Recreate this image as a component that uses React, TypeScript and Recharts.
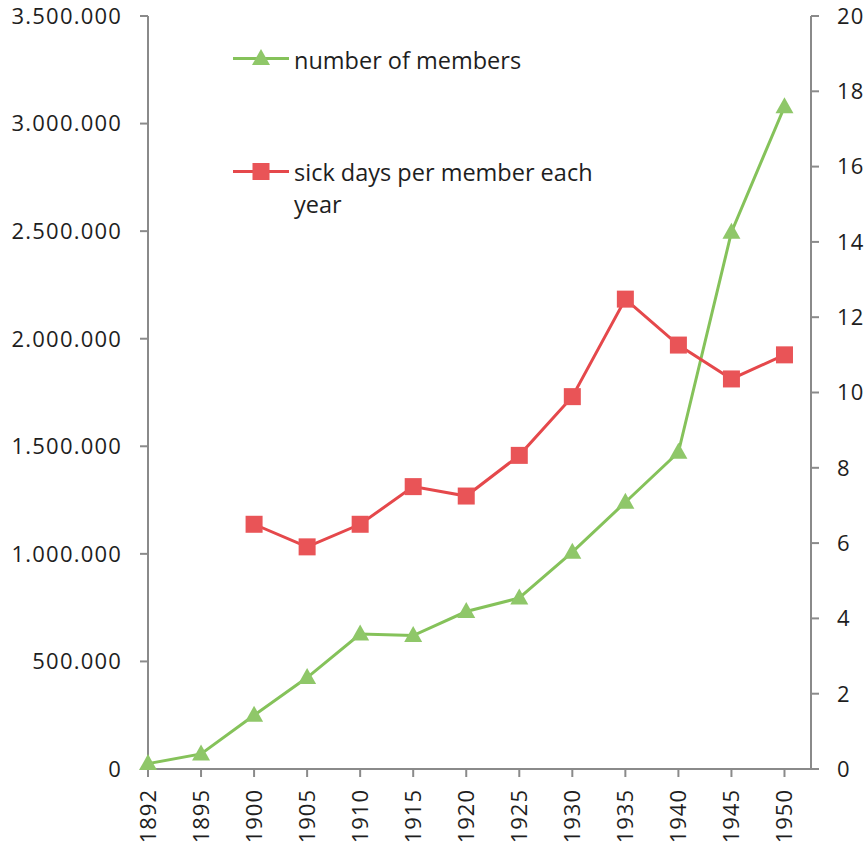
import { LineChart, Line, XAxis, YAxis } from 'recharts';

const years = ['1892', '1895', '1900', '1905', '1910', '1915', '1920', '1925', '1930', '1935', '1940', '1945', '1950'];
const members = [25000, 70000, 250000, 425000, 627000, 620000, 732000, 795000, 1008000, 1240000, 1472000, 2495000, 3078000];
const sickDays = [null, null, 6.5, 5.9, 6.5, 7.5, 7.25, 8.33, 9.89, 12.48, 11.26, 10.36, 11.0];
const leftTicks = [0, 500000, 1000000, 1500000, 2000000, 2500000, 3000000, 3500000];
const rightTicks = [0, 2, 4, 6, 8, 10, 12, 14, 16, 18, 20];

const GREEN = '#85c25a';
const GREEN_MARK = '#8fc769';
const RED = '#e5484b';
const RED_MARK = '#e95457';
const AXIS = '#8a8a8a';
const TEXT = '#1e1e1e';
const FONT = '"Open Sans", sans-serif';

const data = years.map((year, i) => ({
  idx: i,
  year,
  members: members[i],
  sick: sickDays[i],
}));

const fmtDots = (n: number) => String(n).replace(/\B(?=(\d{3})+(?!\d))/g, '.');

const Triangle = (props: any) => {
  const { cx, cy, index } = props;
  if (cx == null || cy == null) return <g key={`t${index}`} />;
  return (
    <polygon
      key={`t${index}`}
      points={`${cx},${cy - 9.5} ${cx - 9},${cy + 6.5} ${cx + 9},${cy + 6.5}`}
      fill={GREEN_MARK}
    />
  );
};

const Square = (props: any) => {
  const { cx, cy, index } = props;
  if (cx == null || cy == null) return <g key={`s${index}`} />;
  return <rect key={`s${index}`} x={cx - 8.5} y={cy - 8.5} width={17} height={17} fill={RED_MARK} />;
};

// year labels, turned to read bottom-up
const XTick = (props: any) => {
  const { x, y, payload } = props;
  return (
    <text
      x={x}
      y={y}
      transform={`rotate(-90, ${x}, ${y})`}
      textAnchor="end"
      dy="0.36em"
      fill={TEXT}
      fontSize={22}
      letterSpacing={1}
      fontFamily={FONT}
    >
      {years[payload.value]}
    </text>
  );
};

const tickStyle = { fill: TEXT, fontSize: 22, fontFamily: FONT, letterSpacing: 1.2 };

export default function App() {
  return (
    <div style={{ position: 'absolute', left: 0, top: 0, width: 866, height: 844, background: '#fff', overflow: 'hidden' }}>
      <LineChart width={866} height={844} data={data} margin={{ top: 16, right: 0, bottom: 0, left: 0 }}>
        <XAxis
          dataKey="idx"
          type="number"
          domain={[0, 12.5]}
          ticks={years.map((_, i) => i)}
          tick={<XTick />}
          tickSize={8}
          tickMargin={12}
          height={75}
          stroke={AXIS}
          strokeWidth={2}
          interval={0}
        />
        <YAxis
          yAxisId="left"
          domain={[0, 3500000]}
          ticks={leftTicks}
          tickFormatter={fmtDots}
          width={148}
          tickSize={8}
          tickMargin={18}
          stroke={AXIS}
          strokeWidth={2}
          tick={tickStyle}
          interval={0}
        />
        <YAxis
          yAxisId="right"
          orientation="right"
          domain={[0, 20]}
          ticks={rightTicks}
          width={55}
          tickSize={8}
          tickMargin={18}
          stroke={AXIS}
          strokeWidth={2}
          tick={tickStyle}
          interval={0}
        />
        <Line
          yAxisId="left"
          dataKey="members"
          type="linear"
          stroke={GREEN}
          strokeWidth={3}
          dot={Triangle}
          activeDot={false}
          isAnimationActive={false}
        />
        <Line
          yAxisId="right"
          dataKey="sick"
          type="linear"
          stroke={RED}
          strokeWidth={3}
          dot={Square}
          activeDot={false}
          isAnimationActive={false}
        />
      </LineChart>
      {/* legend drawn inside the plot area, like the original */}
      <svg width={866} height={844} style={{ position: 'absolute', left: 0, top: 0, pointerEvents: 'none' }}>
        <line x1={233} y1={58.5} x2={289} y2={58.5} stroke={GREEN} strokeWidth={3} />
        <polygon points="261,49 252,65 270,65" fill={GREEN_MARK} />
        <text x={294} y={69} fontSize={23.5} fontFamily={FONT} fill={TEXT}>
          number of members
        </text>
        <line x1={233} y1={171.5} x2={289} y2={171.5} stroke={RED} strokeWidth={3} />
        <rect x={252.5} y={163} width={17} height={17} fill={RED_MARK} />
        <text x={294} y={181} fontSize={23.5} fontFamily={FONT} fill={TEXT}>
          sick days per member each
        </text>
        <text x={294} y={213} fontSize={23.5} fontFamily={FONT} fill={TEXT}>
          year
        </text>
      </svg>
    </div>
  );
}
